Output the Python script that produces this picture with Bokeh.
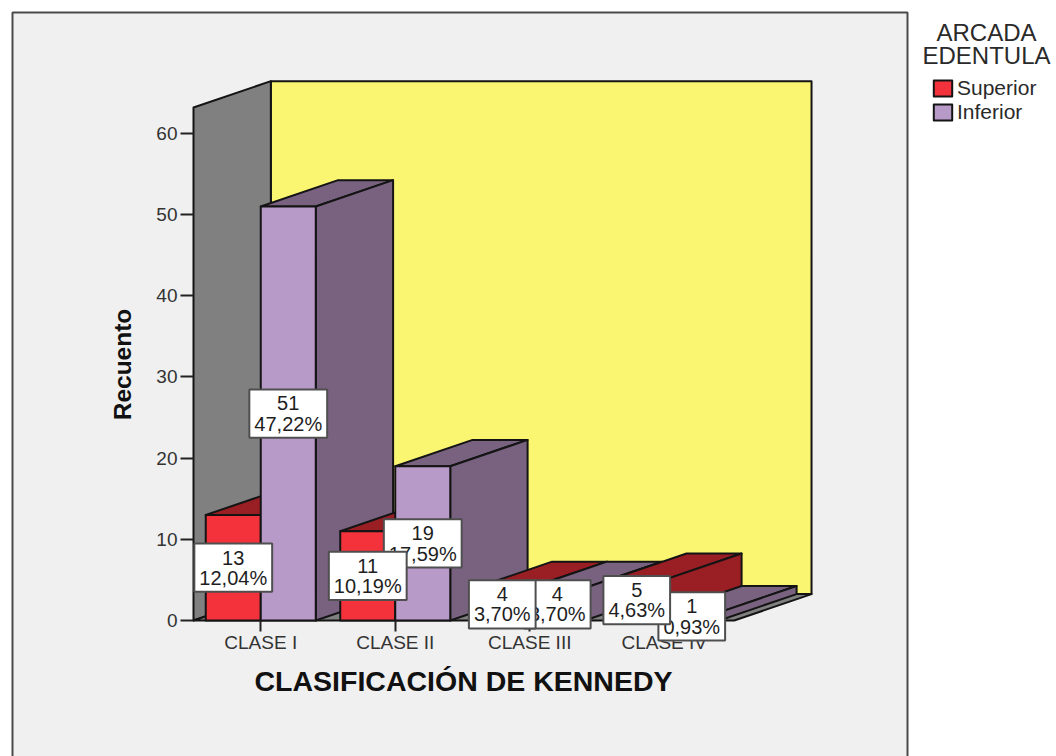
import math
from bokeh.embed import file_html
from bokeh.resources import INLINE
from bokeh.plotting import figure
from bokeh.models import Range1d, FixedTicker, Label, Legend, LegendItem

categories = ["CLASE I", "CLASE II", "CLASE III", "CLASE IV"]
series_names = ["Superior", "Inferior"]
superior = [13, 11, 4, 5]
inferior = [51, 19, 4, 1]
superior_pct = ["12,04%", "10,19%", "3,70%", "4,63%"]
inferior_pct = ["47,22%", "17,59%", "3,70%", "0,93%"]
y_ticks = [0, 10, 20, 30, 40, 50, 60]
legend_title = "ARCADA\nEDENTULA"
x_title = "CLASIFICACIÓN DE KENNEDY"
y_title = "Recuento"

FONT = "Liberation Sans"
INK = "#141414"
RED, RED_DARK = "#F4323C", "#9A1F24"
PURPLE, PURPLE_DARK = "#B89AC8", "#78627F"
DX, DY = 0.575, 3.25     # 3D depth in data units
BAR = 0.2045             # half category width of a bar
WALL_TOP = 63.2
FLOOR_END = 4.02

W, H = 1056, 756
X0, Y0, SX, SY = 193, 620, 134.5, 8.117   # pixel of data origin and pixels per unit


def dx(px):
    return (px - X0) / SX


def dy(py):
    return (Y0 - py) / SY


p = figure(width=W, height=H, output_backend="svg", toolbar_location=None,
           x_range=Range1d(dx(0), dx(W)), y_range=Range1d(dy(H), dy(0)),
           min_border=0, background_fill_color="white", border_fill_color="white",
           outline_line_color=None)
p.grid.visible = False

# grey chart panel
p.patch([dx(12), dx(907), dx(907), dx(12)], [dy(770), dy(770), dy(12), dy(12)],
        fill_color="#F0F0F0", line_color="#4A4A4A", line_width=2)


def solid(xs, ys, fill):
    return p.patch(xs, ys, fill_color=fill, line_color=INK, line_width=2, line_join="round")


# walls and floor
solid([DX, FLOOR_END + DX, FLOOR_END + DX, DX], [DY, DY, WALL_TOP + DY, WALL_TOP + DY], "#FBF672")
solid([0, DX, DX, 0], [0, DY, WALL_TOP + DY, WALL_TOP], "#808080")
solid([0, FLOOR_END, FLOOR_END + DX, DX], [0, 0, DY, DY], "#808080")


def bar(x0, x1, v, front, dark):
    solid([x0, x1, x1 + DX, x0 + DX], [v, v, v + DY, v + DY], dark)
    solid([x1, x1 + DX, x1 + DX, x1], [0, DY, v + DY, v], dark)
    return solid([x0, x1, x1, x0], [0, 0, v, v], front)


for i in range(len(categories)):
    c = i + 0.5
    r_sup = bar(c - 2 * BAR, c, superior[i], RED, RED_DARK)
    r_inf = bar(c, c + 2 * BAR, inferior[i], PURPLE, PURPLE_DARK)


def tag(x, v, pct):
    p.add_layout(Label(x=x, y=v / 2, text=f"{v}\n{pct}", text_align="center", text_baseline="middle",
                       anchor="center", text_font=FONT, text_font_size="20px", text_color="#1E1E1E",
                       text_line_height=0.92, background_fill_color="white", background_fill_alpha=1,
                       border_line_color="#4F4F4F", border_line_width=2, padding=(5, 3)))


for i in range(len(categories)):
    tag(i + 0.5 + BAR, inferior[i], inferior_pct[i])
for i in range(len(categories)):
    tag(i + 0.5 - BAR, superior[i], superior_pct[i])

# axes
ya = p.yaxis[0]
ya.fixed_location = 0
ya.ticker = FixedTicker(ticks=y_ticks)
ya.axis_line_color = None
ya.major_tick_out, ya.major_tick_in = 13, 0
ya.minor_tick_line_color = None
ya.major_tick_line_color = "#222222"
ya.major_tick_line_width = 2
ya.major_label_text_font = FONT
ya.major_label_text_font_size = "19px"
ya.major_label_text_color = "#333333"
ya.major_label_standoff = 3

xa = p.xaxis[0]
xa.fixed_location = 0
xa.ticker = FixedTicker(ticks=[i + 0.5 for i in range(len(categories))])
xa.major_label_overrides = {i + 0.5: c for i, c in enumerate(categories)}
xa.axis_line_color = None
xa.major_tick_out, xa.major_tick_in = 11, 0
xa.minor_tick_line_color = None
xa.major_tick_line_color = "#222222"
xa.major_tick_line_width = 2
xa.major_label_text_font = FONT
xa.major_label_text_font_size = "19px"
xa.major_label_text_color = "#333333"
xa.major_label_standoff = 0

p.add_layout(Label(x=463, y=680, x_units="canvas", y_units="canvas", text=x_title,
                   text_align="center", text_baseline="middle", anchor="center",
                   text_font=FONT, text_font_style="bold", text_font_size="28.5px", text_color="#111111"))
p.add_layout(Label(x=122, y=364, x_units="canvas", y_units="canvas", text=y_title, angle=math.pi / 2,
                   text_align="center", text_baseline="middle", anchor="center",
                   text_font=FONT, text_font_style="bold", text_font_size="24.5px", text_color="#111111"))

# legend
p.add_layout(Label(x=986, y=18, x_units="canvas", y_units="canvas", text=legend_title,
                   text_align="center", text_baseline="top", anchor="top_center",
                   text_font=FONT, text_font_size="24px", text_color="#2A2A2A", text_line_height=0.88))
legend = Legend(items=[LegendItem(label=series_names[0], renderers=[r_sup]),
                       LegendItem(label=series_names[1], renderers=[r_inf])],
                location=(931, 632), orientation="vertical", background_fill_alpha=0, border_line_color=None,
                padding=0, margin=0, spacing=0, glyph_width=23, glyph_height=20, label_standoff=3,
                label_text_font=FONT, label_text_font_size="21px", label_text_color="#2A2A2A",
                label_height=19)
p.add_layout(legend)

open("out.html", "w").write(file_html(p, INLINE))
